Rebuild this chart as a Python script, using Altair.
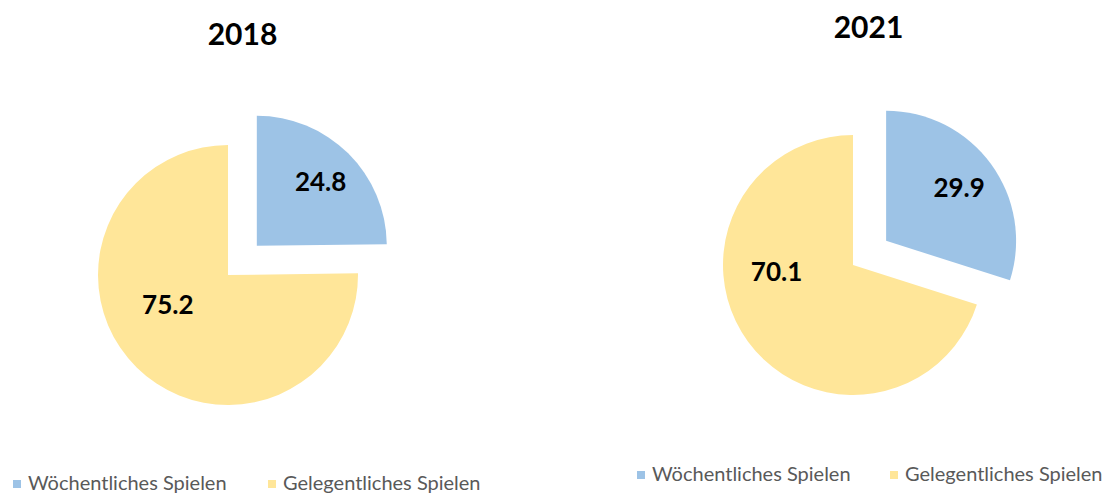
import altair as alt
import pandas as pd

# ---- data ----
years = ["2018", "2021"]
categories = ["Wöchentliches Spielen", "Gelegentliches Spielen"]
shares_2018 = [24.8, 75.2]
shares_2021 = [29.9, 70.1]
colors = ["#9DC3E6", "#FFE699"]

rows = []
for year, shares in zip(years, [shares_2018, shares_2021]):
    for i, (cat, val) in enumerate(zip(categories, shares)):
        rows.append({"year": year, "category": cat, "value": val, "order": i,
                     "label": f"{val:.1f}"})
df = pd.DataFrame(rows)
titles_df = pd.DataFrame({"year": years})

# ---- layout (pixels inside the chart) ----
R = 130
EXPLODE = 41
PANEL = {
    "2018": dict(cx=220, cy=267, tx=234.5, ty=37, lx=-1, ly=466, cp=35,
                 ndx=-11, ndy=-19),
    "2021": dict(cx=845, cy=257, tx=860.5, ty=30, lx=623, ly=457, cp=33,
                 ndx=-20, ndy=-33),
}


def pie(year):
    p = PANEL[year]
    base = (
        alt.Chart(df)
        .transform_filter(alt.datum.year == year)
        .transform_joinaggregate(total="sum(value)")
        .transform_window(cum="sum(value)", sort=[alt.SortField("order")])
        .transform_calculate(
            t0="2*PI*(datum.cum - datum.value)/datum.total",
            t1="2*PI*datum.cum/datum.total",
        )
        .transform_calculate(
            tm="(datum.t0 + datum.t1)/2",
            off=f"datum.order == 0 ? {EXPLODE} : 0",
        )
        .transform_calculate(
            px=f"{p['cx']} + datum.off*sin(datum.tm)",
            py=f"{p['cy']} - datum.off*cos(datum.tm)",
        )
    )
    pos = dict(
        x=alt.X("px:Q", scale=None, axis=None),
        y=alt.Y("py:Q", scale=None, axis=None),
    )
    arcs = base.mark_arc(radius=R).encode(
        theta=alt.Theta("t0:Q", scale=None),
        theta2="t1:Q",
        color=alt.Color(
            "category:N",
            scale=alt.Scale(domain=categories, range=colors),
            legend=alt.Legend(
                orient="none", legendX=p["lx"], legendY=p["ly"],
                direction="horizontal", title=None, symbolType="square",
                symbolSize=64, symbolStrokeWidth=0, symbolOpacity=1,
                labelFont="Lato", labelFontSize=20, labelColor="#595959",
                columnPadding=p["cp"], labelOffset=1, padding=0, labelLimit=400,
            ),
        ),
        **pos,
    )
    lab_blue = base.transform_filter(alt.datum.order == 0).mark_text(
        font="Lato", fontWeight="bold", fontSize=26, color="black",
        radius=88, baseline="middle", dx=2,
    ).encode(theta=alt.Theta("tm:Q", scale=None), text="label:N", **pos)
    lab_yellow = base.transform_filter(alt.datum.order == 1).mark_text(
        font="Lato", fontWeight="bold", fontSize=26, color="black",
        radius=70, baseline="middle", dx=p["ndx"], dy=p["ndy"],
    ).encode(theta=alt.Theta("tm:Q", scale=None), text="label:N", **pos)
    title = (
        alt.Chart(titles_df)
        .transform_filter(alt.datum.year == year)
        .mark_text(font="Lato", fontWeight="bold", fontSize=30, color="black",
                   baseline="alphabetic", align="center")
        .encode(text="year:N", x=alt.value(p["tx"]), y=alt.value(p["ty"]))
    )
    return alt.layer(arcs, lab_blue, lab_yellow, title)


chart = (
    alt.layer(pie("2018"), pie("2021"))
    .resolve_scale(color="independent")
    .properties(width=1095, height=485, padding=0, background="white",
                autosize=alt.AutoSizeParams(type="none"))
    .configure_view(stroke=None, strokeWidth=0)
)

chart.save("out.html", embed_options={"renderer": "svg", "actions": False})
